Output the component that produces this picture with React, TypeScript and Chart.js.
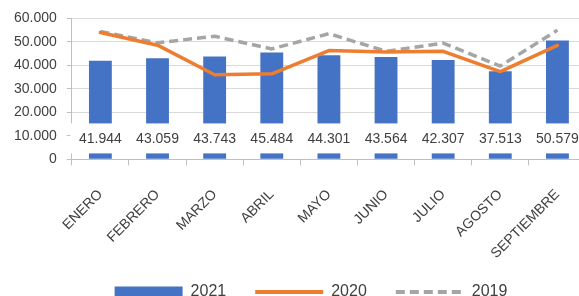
import React, { useEffect, useRef } from "react";
import { Chart, registerables } from "chart.js";

Chart.register(...registerables);

const categories = ["ENERO", "FEBRERO", "MARZO", "ABRIL", "MAYO", "JUNIO", "JULIO", "AGOSTO", "SEPTIEMBRE"];
const values2021 = [41944, 43059, 43743, 45484, 44301, 43564, 42307, 37513, 50579];
const values2020 = [54000, 48600, 36000, 36400, 46300, 45700, 46000, 37300, 48500];
const values2019 = [54400, 49600, 52400, 47000, 53500, 46000, 49500, 39700, 55000];
const yTicks = [0, 10000, 20000, 30000, 40000, 50000, 60000];

const BLUE = "#4472C4";
const ORANGE = "#ED7D31";
const GRAY = "#A5A5A5";
const TEXT = "#404040";
const FONT = "'Liberation Sans', Arial, sans-serif";

const fmt = (v: number) => String(Math.round(v)).replace(/\B(?=(\d{3})+(?!\d))/g, ".");

const labelPlugin = {
  id: "barLabels",
  afterDatasetsDraw(chart: any) {
    const ctx = chart.ctx;
    const meta = chart.getDatasetMeta(0);
    const yScale = chart.scales.y;
    const cy = yScale.getPixelForValue(8900);
    ctx.save();
    ctx.font = `14px ${FONT}`;
    ctx.textAlign = "center";
    ctx.textBaseline = "middle";
    meta.data.forEach((el: any) => {
      ctx.fillStyle = "#FFFFFF";
      ctx.fillRect(el.x - 30, cy - 15, 60, 30);
    });
    meta.data.forEach((el: any, i: number) => {
      ctx.fillStyle = TEXT;
      ctx.fillText(fmt(values2021[i]), el.x, cy + 1);
    });
    ctx.restore();
  },
};

const legendShift = {
  id: "legendShift",
  afterLayout(chart: any) {
    const l = chart.legend;
    if (!l) return;
    l.left += 16;
    l.right += 16;
    l.top -= 28;
    l.bottom -= 28;
  },
};

export default function App() {
  const ref = useRef<HTMLCanvasElement | null>(null);
  useEffect(() => {
    if (!ref.current) return;
    const chart = new Chart(ref.current, {
      data: {
        labels: categories,
        datasets: [
          {
            type: "bar",
            label: "2021",
            data: values2021,
            backgroundColor: BLUE,
            borderWidth: 0,
            categoryPercentage: 1,
            barPercentage: 0.4,
            order: 3,
          },
          {
            type: "line",
            label: "2020",
            data: values2020,
            borderColor: ORANGE,
            backgroundColor: ORANGE,
            borderWidth: 3.5,
            pointRadius: 0,
            tension: 0,
            borderCapStyle: "round",
            borderJoinStyle: "round",
            order: 1,
          },
          {
            type: "line",
            label: "2019",
            data: values2019,
            borderColor: GRAY,
            backgroundColor: GRAY,
            borderWidth: 3.5,
            borderDash: [9, 5],
            pointRadius: 0,
            tension: 0,
            borderJoinStyle: "round",
            order: 2,
          },
        ],
      } as any,
      options: {
        responsive: false,
        animation: false,
        devicePixelRatio: 1,
        layout: { padding: { left: 4, right: 34, top: 16, bottom: 0 } },
        plugins: {
          tooltip: { enabled: false },
          legend: {
            position: "bottom",
            labels: {
              usePointStyle: true,
              pointStyleWidth: 68,
              boxHeight: 11,
              padding: 29,
              color: TEXT,
              font: { family: FONT, size: 16 },
              generateLabels: (ch: any) =>
                ch.data.datasets.map((ds: any, i: number) => ({
                  text: ds.label,
                  fillStyle: ds.type === "bar" ? BLUE : ds.borderColor,
                  strokeStyle: ds.type === "bar" ? BLUE : ds.borderColor,
                  lineWidth: ds.type === "bar" ? 0 : 4,
                  lineDash: ds.borderDash || [],
                  pointStyle: ds.type === "bar" ? "rect" : "line",
                  hidden: false,
                  datasetIndex: i,
                  fontColor: TEXT,
                })),
            },
          },
        },
        scales: {
          x: {
            offset: true,
            grid: { display: true, drawOnChartArea: false, offset: true, tickLength: 6, color: "#BFBFBF" },
            border: { color: "#BFBFBF" },
            ticks: {
              autoSkip: false,
              maxRotation: 45,
              minRotation: 45,
              color: TEXT,
              font: { family: FONT, size: 14 },
              padding: 21,
            },
          },
          y: {
            min: 0,
            max: 60000,
            afterBuildTicks: (s: any) => {
              s.ticks = yTicks.map((v) => ({ value: v }));
            },
            grid: { color: "#D9D9D9", tickLength: 5, tickColor: "#BFBFBF" },
            border: { color: "#BFBFBF" },
            ticks: {
              color: TEXT,
              font: { family: FONT, size: 14 },
              padding: 10,
              callback: (v: any) => fmt(Number(v)),
            },
          },
        },
      },
      plugins: [labelPlugin, legendShift],
    } as any);
    return () => chart.destroy();
  }, []);
  return (
    <div style={{ position: "fixed", left: 0, top: 0, width: 579, height: 296, overflow: "hidden", background: "#fff" }}>
      <canvas ref={ref} width={620} height={338} style={{ display: "block" }} />
    </div>
  );
}
